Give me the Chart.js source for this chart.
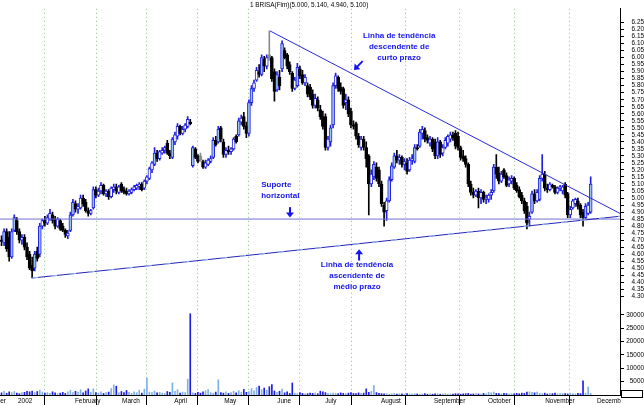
<!DOCTYPE html>
<html>
<head>
<meta charset="utf-8">
<script src="https://cdn.jsdelivr.net/npm/chart.js@4.4.1/dist/chart.umd.min.js"></script>
<style>
  html, body { margin: 0; padding: 0; background: #fff; }
</style>
</head>
<body>
<canvas id="chart" width="644" height="405"></canvas>
<script>
// Daily candles, Dec 2001 .. Nov 2002 (one entry per trading day)
const opens = [
  4.70,4.68,4.76,4.72,4.58,4.77,
  4.84,4.76,4.70,4.72,4.65,4.60,4.52,4.50,4.62,4.60,4.80,4.84,4.82,4.85,4.88,4.85,4.80,4.84,4.80,4.77,4.73,4.77,
  4.88,4.96,4.92,4.93,5.00,4.97,4.91,4.89,4.93,5.06,5.02,5.05,5.09,5.03,5.05,5.01,5.06,5.08,5.04,
  5.10,5.06,5.05,5.03,5.04,5.06,5.07,5.08,5.10,5.07,5.12,5.14,5.20,5.24,5.32,5.28,5.32,5.34,5.39,5.32,
  5.29,5.40,5.44,5.51,5.46,5.49,5.51,5.54,5.23,5.35,5.30,5.30,5.26,5.22,5.24,5.26,5.29,5.41,5.40,5.50,
  5.40,5.31,5.34,5.33,5.35,5.44,5.45,5.54,5.58,5.51,5.46,5.68,5.78,5.84,5.90,5.88,5.99,5.94,6.02,6.00,5.90,
  5.77,5.86,5.92,6.05,6.02,5.95,5.89,5.78,5.80,5.92,5.88,5.82,5.80,5.79,5.74,5.66,5.70,5.63,5.58,
  5.58,5.36,5.40,5.52,5.80,5.86,5.79,5.78,5.68,5.70,5.62,5.52,5.53,5.44,5.36,5.42,5.36,5.30,5.10,5.15,5.22,5.20,
  5.10,4.95,4.91,4.98,5.13,5.22,5.30,5.27,5.29,5.24,5.25,5.20,5.27,5.26,5.36,5.37,5.46,5.48,5.43,5.39,5.42,
  5.40,5.30,5.40,5.32,5.36,5.39,5.42,5.45,5.46,5.44,5.36,5.30,5.28,5.24,5.10,5.04,5.02,5.05,5.00,5.04,4.99,
  4.99,5.02,5.05,5.22,5.18,5.12,5.20,5.16,5.10,5.12,5.14,5.09,5.06,5.02,4.98,4.94,4.85,4.90,5.03,4.98,4.99,5.14,
  5.17,5.07,5.06,5.09,5.08,5.04,5.07,5.05,5.10,5.03,4.88,4.93,4.96,4.98,4.95,4.90,4.86,4.89,4.90
];
const highs = [
  4.73,4.78,4.78,4.76,4.78,4.88,
  4.86,4.78,4.74,4.74,4.68,4.62,4.58,4.62,4.65,4.82,4.85,4.87,4.88,4.92,4.90,4.87,4.86,4.85,4.82,4.78,4.77,4.90,
  4.99,4.98,4.96,5.02,5.02,4.99,4.93,4.92,5.08,5.08,5.07,5.11,5.10,5.06,5.06,5.08,5.10,5.10,5.09,
  5.11,5.08,5.07,5.06,5.07,5.09,5.10,5.11,5.11,5.13,5.16,5.22,5.26,5.36,5.34,5.34,5.36,5.37,5.41,5.34,
  5.43,5.47,5.53,5.52,5.51,5.53,5.58,5.56,5.37,5.36,5.31,5.32,5.27,5.27,5.28,5.30,5.43,5.44,5.51,5.51,
  5.42,5.36,5.37,5.36,5.43,5.45,5.57,5.59,5.61,5.54,5.70,5.80,5.84,5.93,5.95,6.02,6.01,6.02,6.19,6.01,5.92,
  5.90,5.91,6.12,6.07,6.03,5.97,5.90,5.86,5.96,5.94,5.91,5.88,5.82,5.81,5.77,5.74,5.72,5.66,5.62,
  5.60,5.44,5.52,5.82,5.89,5.87,5.82,5.79,5.74,5.72,5.64,5.55,5.54,5.46,5.44,5.44,5.40,5.31,5.20,5.26,5.25,5.22,
  5.12,4.97,5.00,5.15,5.25,5.32,5.34,5.31,5.30,5.28,5.28,5.29,5.31,5.38,5.38,5.49,5.51,5.50,5.45,5.44,5.43,
  5.42,5.43,5.41,5.38,5.43,5.45,5.47,5.47,5.48,5.47,5.37,5.34,5.30,5.25,5.12,5.07,5.06,5.07,5.06,5.05,5.02,
  5.03,5.06,5.24,5.31,5.22,5.19,5.21,5.18,5.15,5.16,5.15,5.11,5.08,5.04,5.00,4.97,4.90,5.05,5.06,5.06,5.16,5.31,
  5.19,5.10,5.11,5.10,5.09,5.08,5.09,5.09,5.11,5.04,4.94,4.99,5.00,5.00,4.96,4.92,4.96,4.97,5.15
];
const lows = [
  4.66,4.66,4.62,4.55,4.57,4.76,
  4.74,4.68,4.67,4.63,4.56,4.49,4.43,4.48,4.55,4.58,4.78,4.80,4.81,4.84,4.82,4.78,4.79,4.77,4.76,4.72,4.71,4.76,
  4.87,4.90,4.89,4.92,4.94,4.90,4.87,4.88,4.92,5.00,5.01,5.03,5.02,5.01,4.99,5.00,5.04,5.03,5.03,
  5.04,5.03,5.02,5.02,5.03,5.05,5.06,5.06,5.05,5.06,5.10,5.13,5.18,5.23,5.26,5.27,5.31,5.32,5.31,5.28,
  5.28,5.38,5.42,5.45,5.45,5.47,5.50,5.52,5.22,5.28,5.25,5.26,5.21,5.21,5.23,5.25,5.28,5.37,5.39,5.40,
  5.29,5.29,5.31,5.31,5.34,5.39,5.44,5.52,5.49,5.43,5.44,5.66,5.76,5.83,5.86,5.87,5.90,5.92,5.98,5.83,5.69,
  5.76,5.77,5.90,5.99,5.92,5.88,5.76,5.77,5.79,5.85,5.81,5.80,5.72,5.70,5.64,5.64,5.62,5.56,5.49,
  5.34,5.34,5.37,5.50,5.78,5.76,5.74,5.64,5.63,5.58,5.50,5.49,5.42,5.36,5.34,5.34,5.22,4.88,5.08,5.13,5.12,5.08,
  4.94,4.80,4.84,4.97,5.12,5.21,5.25,5.24,5.22,5.20,5.17,5.19,5.24,5.25,5.34,5.36,5.42,5.40,5.39,5.37,5.33,
  5.28,5.28,5.29,5.30,5.35,5.37,5.40,5.41,5.35,5.34,5.27,5.26,5.22,5.08,5.02,5.00,5.01,4.93,4.96,4.97,4.96,
  4.97,4.99,5.04,5.14,5.10,5.11,5.14,5.08,5.08,5.10,5.06,5.04,5.00,4.96,4.89,4.78,4.80,4.89,4.96,4.97,4.98,5.12,
  5.05,5.04,5.05,5.07,5.03,5.03,5.05,5.03,5.00,4.86,4.86,4.92,4.94,4.92,4.86,4.80,4.85,4.88,4.89
];
const closes = [
  4.69,4.76,4.64,4.58,4.76,4.86,
  4.76,4.70,4.72,4.65,4.58,4.50,4.48,4.60,4.57,4.80,4.84,4.82,4.86,4.89,4.84,4.80,4.85,4.78,4.77,4.74,4.75,4.88,
  4.97,4.92,4.94,5.00,4.96,4.91,4.89,4.91,5.06,5.02,5.05,5.09,5.03,5.05,5.01,5.07,5.08,5.05,5.08,
  5.05,5.04,5.03,5.05,5.06,5.08,5.09,5.10,5.06,5.12,5.15,5.21,5.25,5.32,5.28,5.33,5.34,5.36,5.32,5.30,
  5.42,5.45,5.51,5.46,5.49,5.52,5.56,5.53,5.36,5.29,5.26,5.27,5.22,5.25,5.27,5.28,5.41,5.38,5.49,5.42,
  5.31,5.34,5.33,5.35,5.42,5.40,5.55,5.57,5.51,5.46,5.68,5.78,5.82,5.91,5.88,6.00,5.94,6.00,6.00,5.85,5.76,
  5.88,5.80,6.10,6.00,5.94,5.90,5.78,5.84,5.93,5.87,5.82,5.86,5.74,5.72,5.66,5.71,5.64,5.58,5.51,
  5.36,5.42,5.50,5.80,5.87,5.78,5.76,5.66,5.70,5.60,5.52,5.51,5.44,5.38,5.42,5.36,5.28,5.10,5.17,5.24,5.14,5.10,
  4.96,4.90,4.98,5.13,5.23,5.30,5.27,5.29,5.24,5.26,5.19,5.27,5.28,5.36,5.35,5.47,5.49,5.42,5.41,5.42,5.35,
  5.30,5.40,5.31,5.36,5.41,5.44,5.45,5.43,5.37,5.36,5.29,5.28,5.24,5.10,5.04,5.02,5.05,5.00,5.04,4.99,5.00,
  5.02,5.04,5.22,5.17,5.12,5.17,5.15,5.09,5.13,5.14,5.07,5.05,5.01,4.98,4.91,4.82,4.87,5.03,4.98,5.04,5.14,5.17,
  5.07,5.06,5.10,5.08,5.04,5.07,5.08,5.08,5.02,4.88,4.92,4.98,4.99,4.94,4.88,4.86,4.94,4.95,5.10
];
const volumes = [
  800,1400,600,1200,900,1300,700,500,900,1000,
  1400,1200,1500,900,1300,1800,1100,700,900,600,
  1200,800,500,700,1000,600,1200,1800,900,1400,
  1100,2000,800,1500,2300,1000,2300,900,700,1200,
  600,900,1100,2400,3800,3300,800,1300,900,1700,
  1000,600,1200,900,1800,700,2200,6300,1100,900,
  1500,800,1000,700,600,1300,1000,4500,1400,2000,
  700,1100,900,5900,30400,800,600,1000,700,1200,
  1600,2000,900,700,1100,5700,900,700,1200,600,
  900,1400,800,1600,1100,2100,1000,1300,2400,1600,
  2800,3300,2000,2600,1800,3100,3900,1500,1000,1400,
  2200,800,1200,600,4500,700,500,900,600,400,
  500,700,600,800,500,1400,1200,900,600,500,
  700,600,500,800,600,500,700,900,600,500,
  800,600,700,2300,1000,1400,3500,900,600,500,
  400,500,300,400,600,300,500,400,300,500,
  400,300,500,400,300,400,500,300,400,300,
  400,500,300,400,500,300,400,300,500,400,
  300,400,500,600,300,400,500,400,300,600,
  400,1000,800,1100,600,500,400,600,500,400,
  500,400,600,500,700,600,1100,1200,1000,800,
  1100,600,500,700,400,600,500,700,400,500,
  600,500,400,700,500,400,600,500,5300,700,3000,600
];

// x axis: month starts (in trading-day units) and their labels
const monthTicks = [5.7, 28, 46.5, 66.9, 86.5, 107.3, 126.1, 148, 168.8, 190, 212.4, 232.7];
const monthLabels = ['2002', 'February', 'March', 'April', 'May', 'June', 'July', 'August',
  'September', 'October', 'November', 'December'];

const priceTicks = [4.30,4.35,4.40,4.45,4.50,4.55,4.60,4.65,4.70,4.75,4.80,4.85,4.90,4.95,
  5.00,5.05,5.10,5.15,5.20,5.25,5.30,5.35,5.40,5.45,5.50,5.55,5.60,5.65,5.70,5.75,
  5.80,5.85,5.90,5.95,6.00,6.05,6.10,6.15,6.20,6.25];
const volumeTicks = [5000, 10000, 15000, 20000, 25000, 30000];

// trend lines (day, price)
const supportLine = [{x: -0.6, y: 4.85}, {x: 242.5, y: 4.85}];
const risingLine = [{x: 12, y: 4.43}, {x: 242.5, y: 4.87}];
const fallingLine = [{x: 105.3, y: 6.19}, {x: 242.5, y: 4.89}];

const BLUE = '#1f1fe0';
const LIGHT = '#9cc3ec';
const GREY = '#8c8c8c';
const NOTE = '#1414ee';
const SANS = '"Liberation Sans", Arial, sans-serif';

function candleStyle(i) {
  const o = opens[i], c = closes[i];
  const prev = i > 0 ? closes[i - 1] : o;
  if (c >= o) return c - o >= 0.08 ? {fill: LIGHT, line: BLUE, wick: BLUE} : {fill: '#fff', line: BLUE, wick: BLUE};
  if (c < prev) return {fill: '#000', line: '#000', wick: '#000'};
  return {fill: GREY, line: GREY, wick: GREY};
}

const days = opens.map((_, i) => i);

// annotation blocks in chart units
const noteBlocks = [
  {lines: ['Linha de tendência', 'descendente de', 'curto prazo'], day: 155.9, price: 6.159, align: 'center'},
  {lines: ['Suporte', 'horizontal'], day: 101.8, price: 5.094, align: 'left'},
  {lines: ['Linha de tendência', 'ascendente de', 'médio prazo'], day: 139.4, price: 4.523, align: 'center'}
];
const arrows = [
  {from: [141.6, 5.975], to: [138.2, 5.912]},
  {from: [113.1, 4.935], to: [113.1, 4.862]},
  {from: [140.2, 4.555], to: [140.2, 4.635]}
];

function drawArrow(ctx, x1, y1, x2, y2) {
  const a = Math.atan2(y2 - y1, x2 - x1);
  const head = 5;
  ctx.strokeStyle = NOTE;
  ctx.fillStyle = NOTE;
  ctx.lineWidth = 2;
  ctx.beginPath();
  ctx.moveTo(x1, y1);
  ctx.lineTo(x2 - Math.cos(a) * head * 0.8, y2 - Math.sin(a) * head * 0.8);
  ctx.stroke();
  ctx.beginPath();
  ctx.moveTo(x2, y2);
  ctx.lineTo(x2 - head * Math.cos(a) + head * 0.8 * Math.sin(a), y2 - head * Math.sin(a) - head * 0.8 * Math.cos(a));
  ctx.lineTo(x2 - head * Math.cos(a) - head * 0.8 * Math.sin(a), y2 - head * Math.sin(a) + head * 0.8 * Math.cos(a));
  ctx.closePath();
  ctx.fill();
}

const notes = {
  id: 'notes',
  afterDraw(chart) {
    const {ctx, chartArea, scales: {x, y}} = chart;
    ctx.save();

    // label of the cut-off month on the left, and clipping of the last one
    ctx.fillStyle = '#000';
    ctx.font = '6.4px ' + SANS;
    ctx.textAlign = 'right';
    ctx.textBaseline = 'top';
    ctx.fillText('December', chartArea.left + 6, chartArea.bottom + 3);
    ctx.fillStyle = '#fff';
    ctx.fillRect(chartArea.right + 1, chartArea.bottom + 1, 30, 12);
    ctx.strokeStyle = '#000';
    ctx.lineWidth = 1;
    ctx.strokeRect(chartArea.right + 1.5, chartArea.bottom - 4.5, 21, 7);

    // title
    ctx.fillStyle = '#000';
    ctx.textAlign = 'left';
    ctx.textBaseline = 'middle';
    ctx.font = '6.4px ' + SANS;
    ctx.fillText('1 BRISA(Fim)(5.000, 5.140, 4.940, 5.100)', 250, 5);

    // notes
    ctx.fillStyle = NOTE;
    ctx.font = 'bold 8px ' + SANS;
    noteBlocks.forEach(b => {
      ctx.textAlign = b.align;
      const px = x.getPixelForValue(b.day);
      const py = y.getPixelForValue(b.price);
      b.lines.forEach((t, k) => ctx.fillText(t, px, py + k * 11));
    });
    arrows.forEach(a => drawArrow(ctx,
      x.getPixelForValue(a.from[0]), y.getPixelForValue(a.from[1]),
      x.getPixelForValue(a.to[0]), y.getPixelForValue(a.to[1])));
    ctx.restore();
  }
};

new Chart(document.getElementById('chart'), {
  type: 'bar',
  data: {
    datasets: [
      {type: 'line', data: risingLine, yAxisID: 'y', borderColor: LIGHT, borderWidth: 1, borderDash: [6, 13],
        pointRadius: 0, order: 0},
      {type: 'line', data: risingLine, yAxisID: 'y', borderColor: '#2424b8', borderWidth: 1, pointRadius: 0, order: 1},
      {type: 'line', data: fallingLine, yAxisID: 'y', borderColor: '#2a2ad8', borderWidth: 1, pointRadius: 0, order: 1},
      {type: 'line', data: supportLine, yAxisID: 'y', borderColor: '#7272d4', borderWidth: 1, pointRadius: 0, order: 1},
      {
        data: days.map(i => ({x: i, y: [opens[i], closes[i]]})),
        yAxisID: 'y', barThickness: 3, minBarLength: 1, borderWidth: 1, borderSkipped: false,
        backgroundColor: c => candleStyle(c.dataIndex).fill,
        borderColor: c => candleStyle(c.dataIndex).line,
        order: 2
      },
      {
        data: days.map(i => ({x: i, y: [lows[i], highs[i]]})),
        yAxisID: 'y', barThickness: 1, borderWidth: 0,
        backgroundColor: c => candleStyle(c.dataIndex).wick,
        order: 3
      },
      {
        data: days.map(i => ({x: i, y: volumes[i]})),
        yAxisID: 'vol', barThickness: 1, borderWidth: 0,
        backgroundColor: c => closes[c.dataIndex] < opens[c.dataIndex] ? BLUE : '#7fb0e6',
        order: 4
      }
    ]
  },
  options: {
    responsive: false,
    devicePixelRatio: 1,
    animation: false,
    layout: {padding: 0},
    datasets: {bar: {grouped: false}},
    plugins: {legend: {display: false}, tooltip: {enabled: false}},
    scales: {
      x: {
        type: 'linear', min: -0.6, max: 242.5, offset: false,
        afterBuildTicks: s => { s.ticks = monthTicks.map(v => ({value: v})); },
        afterFit: s => { s.height = 10; },
        ticks: {
          autoSkip: false, maxRotation: 0, align: 'start', padding: -8, labelOffset: 2,
          color: '#000', font: {size: 6.4, family: SANS},
          callback: (v, idx) => monthLabels[idx]
        },
        grid: {color: '#8cc08c', tickColor: '#000', tickLength: 10, lineWidth: 1},
        border: {display: true, color: '#000', dash: [1, 3]}
      },
      y: {
        type: 'linear', position: 'right', stack: 'right', stackWeight: 302,
        min: 4.2444, max: 6.3475,
        afterBuildTicks: s => { s.ticks = priceTicks.map(v => ({value: v})); },
        afterFit: s => { s.width = 24; },
        ticks: {
          autoSkip: false, crossAlign: 'far', padding: 5, color: '#000',
          font: {size: 6.4, family: SANS},
          callback: v => v.toFixed(2)
        },
        grid: {drawOnChartArea: false, tickLength: 4, tickColor: '#000'},
        border: {display: true, color: '#000'}
      },
      vol: {
        type: 'linear', position: 'right', stack: 'right', stackWeight: 93,
        min: 0, max: 34024,
        afterBuildTicks: s => { s.ticks = volumeTicks.map(v => ({value: v})); },
        afterFit: s => { s.width = 24; },
        ticks: {
          autoSkip: false, crossAlign: 'far', padding: 2, color: '#000',
          font: {size: 6.4, family: SANS},
          callback: v => String(v)
        },
        grid: {drawOnChartArea: false, tickLength: 4, tickColor: '#000'},
        border: {display: true, color: '#000'}
      }
    }
  },
  plugins: [notes]
});
</script>
</body>
</html>
